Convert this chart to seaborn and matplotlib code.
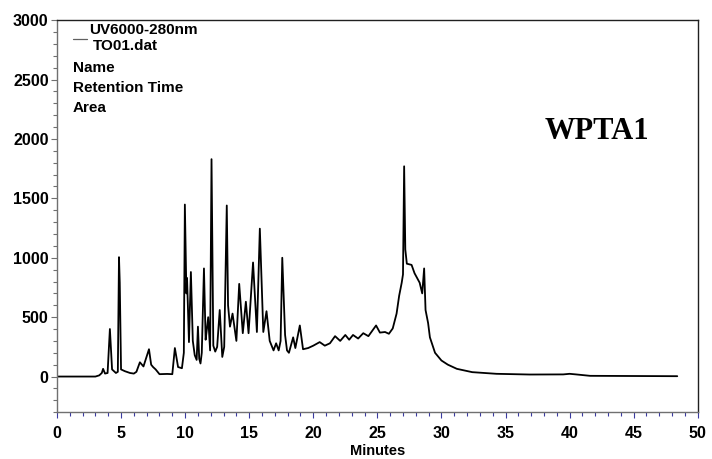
import numpy as np
import pandas as pd
import matplotlib
matplotlib.use("Agg")
import matplotlib.pyplot as plt
from matplotlib.ticker import MultipleLocator
import seaborn as sns

# chromatogram trace (minutes, mAU)
minutes = [0.0, 3.0, 3.3, 3.5, 3.6, 3.75, 3.95, 4.13, 4.3, 4.6, 4.75, 4.84, 4.9, 5.0,
           5.3, 5.7, 6.0, 6.2, 6.47, 6.75, 7.18, 7.35, 7.5, 7.7, 8.0, 8.6, 9.0, 9.2,
           9.45, 9.75, 9.9, 9.98, 10.1, 10.15, 10.3, 10.45, 10.6, 10.75, 10.9, 11.0,
           11.1, 11.2, 11.3, 11.47, 11.6, 11.7, 11.8, 11.95, 12.06, 12.2, 12.35, 12.5,
           12.7, 12.9, 13.05, 13.25, 13.35, 13.5, 13.7, 14.0, 14.22, 14.5, 14.74,
           14.95, 15.3, 15.6, 15.83, 16.1, 16.35, 16.6, 16.9, 17.1, 17.3, 17.45,
           17.58, 17.8, 17.95, 18.1, 18.43, 18.6, 18.95, 19.2, 19.6, 20.0, 20.5,
           20.9, 21.3, 21.7, 22.1, 22.5, 22.8, 23.1, 23.5, 23.9, 24.3, 24.9, 25.2,
           25.6, 25.9, 26.2, 26.5, 26.7, 26.9, 27.0, 27.09, 27.18, 27.3, 27.67,
           27.9, 28.3, 28.5, 28.65, 28.76, 28.96, 29.1, 29.5, 30.0, 30.5, 31.2,
           32.4, 34.3, 36.9, 39.5, 40.0, 40.5, 41.6, 48.4]
signal = [0, 0, 10, 30, 65, 25, 30, 400, 60, 30, 40, 1005, 790, 60,
          45, 30, 25, 40, 120, 85, 230, 100, 80, 60, 20, 22, 20, 240,
          80, 70, 200, 1448, 700, 830, 290, 880, 300, 180, 140, 420,
          150, 110, 200, 910, 310, 400, 500, 220, 1830, 260, 210, 250,
          560, 165, 250, 1440, 600, 420, 530, 300, 780, 365, 630,
          365, 960, 375, 1245, 375, 550, 300, 220, 280, 220, 300,
          1000, 350, 220, 200, 330, 240, 430, 230, 240, 260, 290,
          260, 280, 340, 300, 350, 310, 350, 320, 365, 340, 430, 370,
          375, 360, 405, 530, 680, 790, 860, 1770, 1070, 950, 940,
          870, 790, 700, 910, 560, 450, 330, 200, 135, 100, 65,
          37, 23, 17, 18, 23, 18, 6, 3]

legend_lines = ["Name", "Retention Time", "Area"]
sample_name = "WPTA1"

df = pd.DataFrame({"Minutes": minutes, "signal": signal})

sns.set_style("ticks")
plt.rcParams["font.family"] = ["Liberation Sans", "DejaVu Sans"]
plt.rcParams["font.weight"] = "bold"
plt.rcParams["text.color"] = "black"
plt.rcParams["axes.labelcolor"] = "black"
plt.rcParams["xtick.labelcolor"] = "black"
plt.rcParams["ytick.labelcolor"] = "black"

fig = plt.figure(figsize=(7.12, 4.59), dpi=100)
ax = fig.add_axes([0.080, 0.102, 0.900, 0.854])

sns.lineplot(data=df, x="Minutes", y="signal", ax=ax, color="black",
             linewidth=1.3, estimator=None, sort=False)

ax.set_xlim(0, 50)
ax.set_ylim(-300, 3000)
ax.xaxis.set_major_locator(MultipleLocator(5))
ax.xaxis.set_minor_locator(MultipleLocator(1))
ax.yaxis.set_major_locator(MultipleLocator(500))
ax.yaxis.set_minor_locator(MultipleLocator(100))
ax.tick_params(axis="both", which="major", labelsize=11.5, length=4, width=0.8)
ax.tick_params(axis="x", which="both", color="#3a3aa0", labelcolor="black", pad=6)
ax.tick_params(axis="y", which="both", color="#707070", labelcolor="black", pad=2)
ax.tick_params(axis="both", which="minor", length=3, width=0.8)
for lab in ax.get_xticklabels() + ax.get_yticklabels():
    lab.set_fontweight("bold")

for side in ["left", "bottom"]:
    ax.spines[side].set_color("#707070")
for side in ["top", "right"]:
    ax.spines[side].set_color("#202020")
    ax.spines[side].set_visible(True)
for s in ax.spines.values():
    s.set_linewidth(1.0)

ax.set_xlabel("Minutes", fontsize=10.5, fontweight="bold", labelpad=2,
              color="black")
ax.set_ylabel("")

# instrument legend block
ax.plot([0.025, 0.047], [0.953, 0.953], transform=ax.transAxes,
        color="#606060", linewidth=0.9)
ax.text(0.050, 0.975, "UV6000-280nm", transform=ax.transAxes, fontsize=11,
        fontweight="bold", va="center", color="black")
ax.text(0.056, 0.935, "TO01.dat", transform=ax.transAxes, fontsize=11,
        fontweight="bold", va="center", color="black")
for i, t in enumerate(legend_lines):
    ax.text(0.025, 0.877 - i * 0.05, t, transform=ax.transAxes, fontsize=11,
            fontweight="bold", va="center", color="black")

ax.text(0.842, 0.717, sample_name, transform=ax.transAxes, fontsize=22,
        fontweight="bold", family=["Liberation Serif", "DejaVu Serif"],
        ha="center", va="center", color="black")

fig.savefig("out.png", dpi=100)
